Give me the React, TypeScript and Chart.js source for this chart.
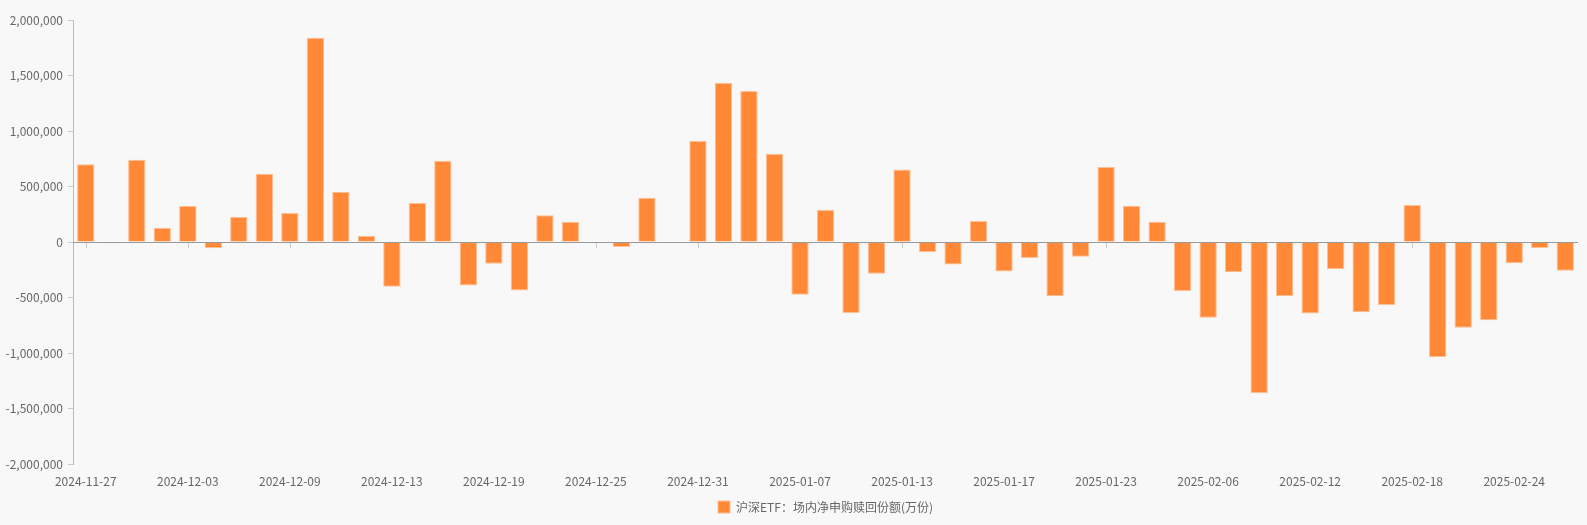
import React, { useEffect, useRef } from "react";
import { Chart, registerables } from "chart.js";

Chart.register(...registerables);

const categories: string[] = [
  "2024-11-27", "2024-11-28", "2024-11-29", "2024-12-02", "2024-12-03", "2024-12-04", "2024-12-05", "2024-12-06",
  "2024-12-09", "2024-12-10", "2024-12-11", "2024-12-12", "2024-12-13", "2024-12-16", "2024-12-17", "2024-12-18",
  "2024-12-19", "2024-12-20", "2024-12-23", "2024-12-24", "2024-12-25", "2024-12-26", "2024-12-27", "2024-12-30",
  "2024-12-31", "2025-01-02", "2025-01-03", "2025-01-06", "2025-01-07", "2025-01-08", "2025-01-09", "2025-01-10",
  "2025-01-13", "2025-01-14", "2025-01-15", "2025-01-16", "2025-01-17", "2025-01-20", "2025-01-21", "2025-01-22",
  "2025-01-23", "2025-01-24", "2025-01-27", "2025-02-05", "2025-02-06", "2025-02-07", "2025-02-10", "2025-02-11",
  "2025-02-12", "2025-02-13", "2025-02-14", "2025-02-17", "2025-02-18", "2025-02-19", "2025-02-20", "2025-02-21",
  "2025-02-24", "2025-02-25", "2025-02-26",
];

const netSubscription: number[] = [
  700000, -12000, 740000, 129000, 324000, -57000, 225000, 615000,
  261000, 1840000, 450000, 57000, -404000, 351000, 732000, -392000,
  -196000, -437000, 240000, 183000, -3000, -44000, 399000, -2000,
  910000, 1432000, 1360000, 795000, -475000, 288000, -640000, -286000,
  654000, -90000, -202000, 189000, -265000, -144000, -487000, -132000,
  676000, 327000, 183000, -442000, -683000, -270000, -1363000, -486000,
  -645000, -245000, -633000, -567000, 333000, -1036000, -772000, -706000,
  -192000, -54000, -258000,
];

const seriesName = "沪深ETF：场内净申购赎回份额(万份)";
const yMin = -2000000;
const yMax = 2000000;
const yStep = 500000;
const labelEvery = 4;

const zeroAxisPlugin = {
  id: "zeroAxis",
  beforeDatasetsDraw(chart: any) {
    const x = chart.scales.x;
    const y = chart.scales.y;
    const y0 = Math.round(y.getPixelForValue(0));
    const ctx = chart.ctx;
    ctx.save();
    ctx.strokeStyle = "#cccccc";
    ctx.lineWidth = 1;
    for (let i = 0; i < categories.length; i += labelEvery) {
      const px = Math.round(x.getPixelForValue(i)) + 0.5;
      ctx.beginPath();
      ctx.moveTo(px, y0 + 1);
      ctx.lineTo(px, y0 + 6);
      ctx.stroke();
    }
    ctx.restore();
  },
  afterDatasetsDraw(chart: any) {
    const y = chart.scales.y;
    const y0 = Math.round(y.getPixelForValue(0));
    const ctx = chart.ctx;
    ctx.save();
    ctx.strokeStyle = "#999999";
    ctx.lineWidth = 1;
    ctx.beginPath();
    ctx.moveTo(chart.chartArea.left, y0 + 0.5);
    ctx.lineTo(chart.chartArea.right, y0 + 0.5);
    ctx.stroke();
    ctx.restore();
  },
};

export default function App() {
  const ref = useRef<HTMLCanvasElement | null>(null);

  useEffect(() => {
    if (!ref.current) return;
    Chart.defaults.font.family = "'Noto Sans CJK SC', 'Noto Sans', sans-serif";
    Chart.defaults.font.size = 12;
    Chart.defaults.color = "#666666";
    const chart = new Chart(ref.current, {
      type: "bar",
      data: {
        labels: categories,
        datasets: [
          {
            label: seriesName,
            data: netSubscription,
            backgroundColor: "#FF8936",
            borderColor: "#FFBE94",
            borderWidth: 1,
            barPercentage: 0.68,
            categoryPercentage: 1,
          },
        ],
      },
      options: {
        animation: false,
        responsive: false,
        layout: { padding: { top: 20, right: 9, bottom: 2, left: 0 } },
        plugins: {
          legend: {
            position: "bottom",
            fullSize: false,
            labels: { boxWidth: 12, boxHeight: 12, padding: 10, color: "#666666", font: { size: 12 } },
          },
          tooltip: { enabled: false },
        },
        scales: {
          x: {
            grid: { display: false, drawTicks: false },
            border: { display: false },
            ticks: {
              autoSkip: false,
              maxRotation: 0,
              padding: 10,
              color: "#666666",
              callback: (_v: any, i: number) => (i % labelEvery === 0 ? categories[i] : ""),
            },
            afterFit: (s: any) => {
              s.height = 27;
            },
          },
          y: {
            min: yMin,
            max: yMax,
            ticks: {
              stepSize: yStep,
              padding: 5,
              color: "#666666",
              callback: (v: any) => Number(v).toLocaleString("en-US"),
            },
            grid: {
              color: "rgba(0,0,0,0)",
              tickColor: "#cccccc",
              tickLength: 5,
            },
            border: { display: true, color: "#bbbbbb" },
            afterFit: (s: any) => {
              s.width = 73;
            },
          },
        },
      },
      plugins: [zeroAxisPlugin],
    });
    return () => chart.destroy();
  }, []);

  return (
    <div style={{ position: "fixed", left: 0, top: 0, width: 1587, height: 525, background: "#f8f8f8" }}>
      <canvas ref={ref} width={1587} height={525} style={{ display: "block" }} />
    </div>
  );
}
